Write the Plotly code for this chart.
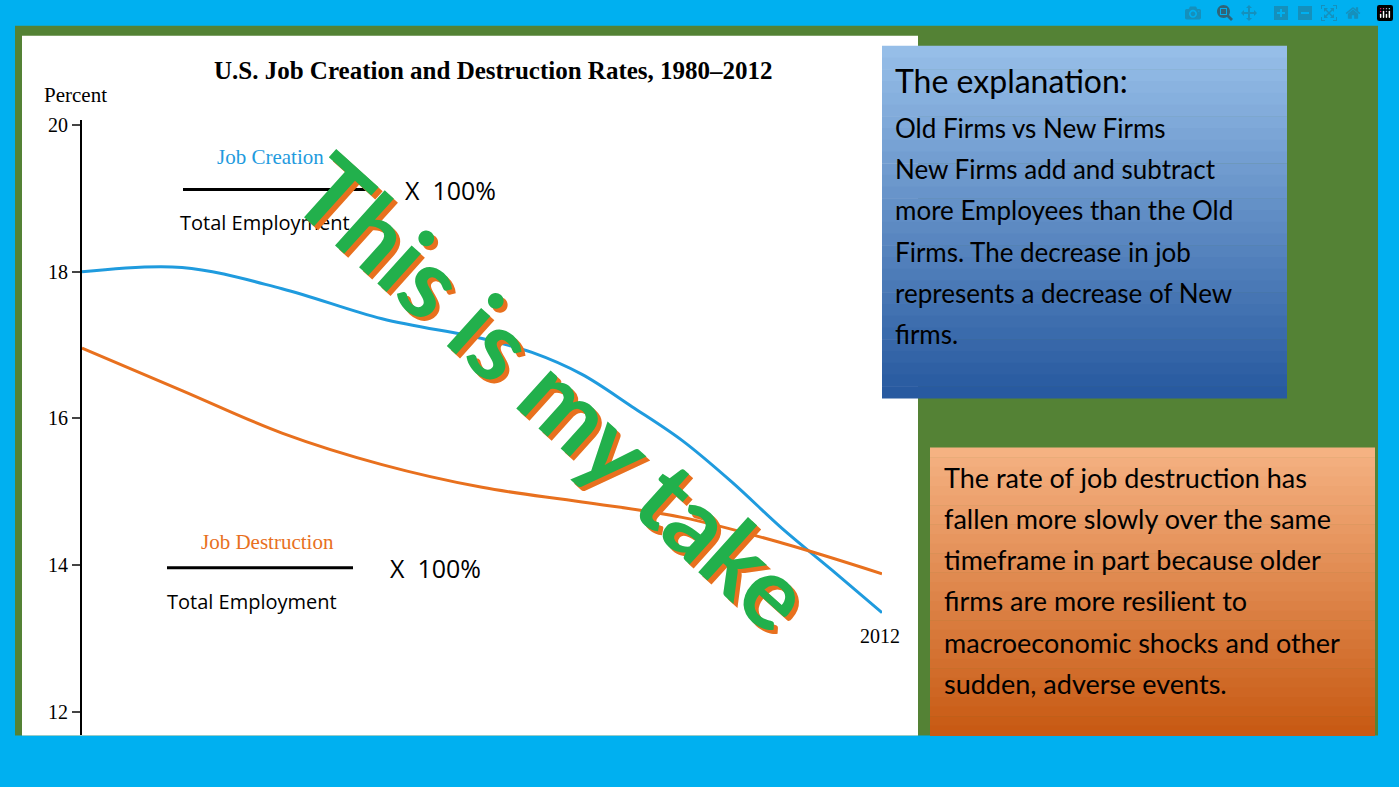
import plotly.graph_objects as go

years_c = [1980, 1984, 1988, 1992, 1996, 1998, 2000, 2002, 2004, 2006, 2008, 2010, 2012]
creation = [18.0, 18.06, 17.77, 17.36, 17.09, 16.9, 16.6, 16.16, 15.7, 15.13, 14.5, 13.93, 13.35]
years_d = [1980, 1984, 1988, 1992, 1996, 2000, 2004, 2008, 2012]
destruction = [16.96, 16.38, 15.8, 15.37, 15.06, 14.86, 14.65, 14.3, 13.88]
y_ticks = [12, 14, 16, 18, 20]

W, H = 1399, 787
def px(x): return x / W
def py(y): return 1 - y / H

fig = go.Figure()
fig.add_trace(go.Scatter(x=years_c, y=creation, mode="lines", line=dict(color="#1F9BDE", width=3, shape="spline"), hoverinfo="skip"))
fig.add_trace(go.Scatter(x=years_d, y=destruction, mode="lines", line=dict(color="#E8701E", width=3, shape="spline"), hoverinfo="skip"))

shapes = [
    dict(type="rect", xref="paper", yref="paper", x0=0, x1=1, y0=0, y1=1, fillcolor="#00B0F0", line_width=0, layer="below"),
    dict(type="rect", xref="paper", yref="paper", x0=px(15), x1=px(1378), y0=py(735), y1=py(20), fillcolor="#548235", line_width=0, layer="below"),
    dict(type="rect", xref="paper", yref="paper", x0=px(22), x1=px(918), y0=py(735), y1=py(30), fillcolor="white", line_width=0, layer="below"),
]
def grad(c0, c1, t):
    return "rgb(%d,%d,%d)" % tuple(int(a + (b - a) * t) for a, b in zip(c0, c1))
n = 30
for i in range(n):
    t = i / (n - 1)
    y0 = 40 + (395 - 40) * i / n
    y1 = 40 + (395 - 40) * (i + 1) / n
    shapes.append(dict(type="rect", xref="paper", yref="paper", x0=px(882), x1=px(1287), y0=py(y1 + 0.5), y1=py(y0),
                       fillcolor=grad((150, 190, 232), (40, 90, 160), t), line_width=0, layer="above"))
    y0 = 445 + (735 - 445) * i / n
    y1 = 445 + (735 - 445) * (i + 1) / n
    shapes.append(dict(type="rect", xref="paper", yref="paper", x0=px(930), x1=px(1375), y0=py(y1 + 0.5), y1=py(y0),
                       fillcolor=grad((245, 178, 130), (200, 90, 20), t), line_width=0, layer="above"))
shapes += [
    dict(type="line", xref="paper", yref="paper", x0=px(183), x1=px(370), y0=py(185), y1=py(185), line=dict(color="black", width=3)),
    dict(type="line", xref="paper", yref="paper", x0=px(167), x1=px(353), y0=py(566), y1=py(566), line=dict(color="black", width=3)),
]

ann = []
def A(x, y, text, size, color="black", family="Liberation Serif", xanchor="center", **kw):
    ann.append(dict(x=px(x), y=py(y), xref="paper", yref="paper", text=text, showarrow=False,
                    font=dict(size=size, color=color, family=family), xanchor=xanchor, yanchor="middle", **kw))

A(493, 65, "<b>U.S. Job Creation and Destruction Rates, 1980–2012</b>", 25)
A(75, 90, "Percent", 21)
A(270, 152, "Job Creation", 21, "#1F9BDE")
A(450, 185, "X  100%", 25, family="Open Sans")
A(265, 218, "Total Employment", 20, family="Open Sans")
A(267, 540, "Job Destruction", 21, "#E8701E")
A(435, 566, "X  100%", 25, family="Open Sans")
A(252, 600, "Total Employment", 20, family="Open Sans")
A(880, 635, "2012", 20)

blue_lines = ["Old Firms vs New Firms", "New Firms add and subtract", "more Employees than the Old",
              "Firms. The decrease in job", "represents a decrease of New", "firms."]
A(893, 75, "The explanation:", 32, family="Lato", xanchor="left")
for i, t in enumerate(blue_lines):
    A(893, 123 + i * 41.5, t, 26, family="Lato", xanchor="left")
orange_lines = ["The rate of job destruction has", "fallen more slowly over the same", "timeframe in part because older",
                "firms are more resilient to", "macroeconomic shocks and other", "sudden, adverse events."]
for i, t in enumerate(orange_lines):
    A(942, 475 + i * 41.5, t, 27, family="Lato", xanchor="left")

for dx, dy, col in [(4, 4, "#E8701E"), (0, 0, "#22B04C")]:
    ann.append(dict(x=px(555 + dx), y=py(388 + dy), xref="paper", yref="paper", text="<b>This is my take</b>",
                    showarrow=False, textangle=42, font=dict(size=100, color=col, family="Lato")))

fig.update_layout(
    width=W, height=H, margin=dict(l=0, r=0, t=0, b=0), showlegend=False,
    paper_bgcolor="#00B0F0", plot_bgcolor="rgba(0,0,0,0)",
    shapes=shapes, annotations=ann,
    xaxis=dict(domain=[px(82), px(882)], range=[1980, 2012], visible=False),
    yaxis=dict(domain=[py(735), py(115)], range=[11.675, 20.07], tickvals=y_ticks, ticks="outside",
               ticklen=8, tickwidth=2, showline=True, linecolor="black", linewidth=2, showgrid=False,
               zeroline=False, tickfont=dict(family="Liberation Serif", size=20, color="black")),
)
fig.write_html("out.html", post_script="document.body.style.margin='0';document.body.style.overflow='hidden';")
